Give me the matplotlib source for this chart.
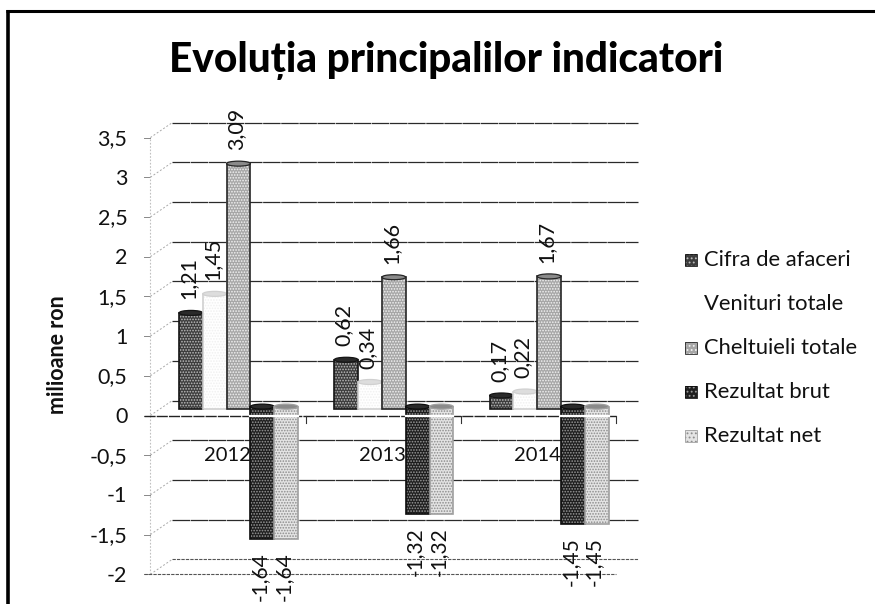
import matplotlib

matplotlib.use("Agg")
import matplotlib.pyplot as plt
import numpy as np
from matplotlib.patches import Ellipse, Rectangle

plt.rcParams["font.family"] = ["Lato", "DejaVu Sans"]
plt.rcParams["hatch.linewidth"] = 0.8

# Values.
YEARS = ["2012", "2013", "2014"]
CIFRA = [1.21, 0.62, 0.17]
VENITURI = [1.45, 0.34, 0.22]
CHELTUIELI = [3.09, 1.66, 1.67]
BRUT = [-1.64, -1.32, -1.45]
NET = [-1.64, -1.32, -1.45]
Y_TICKS = [3.5, 3, 2.5, 2, 1.5, 1, 0.5, 0, -0.5, -1, -1.5, -2]

SERIES = [
    ("Cifra de afaceri", CIFRA, "#3c3c3c", "#bdbdbd", "#141414", "cap_dark"),
    ("Venituri totale", VENITURI, "#ffffff", "#f0f0f0", "#d0d0d0", "cap_light"),
    ("Cheltuieli totale", CHELTUIELI, "#a6a6a6", "#f2f2f2", "#262626", "cap_mid"),
    ("Rezultat brut", BRUT, "#1e1e1e", "#9a9a9a", "#0c0c0c", "cap_dark"),
    ("Rezultat net", NET, "#e4e4e4", "#8c8c8c", "#a0a0a0", "cap_mid"),
]
CAP_FACES = {"cap_dark": "#2a2a2a", "cap_mid": "#8a8a8a", "cap_light": "#dddddd"}

# One axes over the whole page: x in category widths, y in chart units.
W, H = 875, 604
CAT_W = 155.3
UNIT = 79.4
X0_PX, Y0_PX = 228, 415.5
BAR_W = 23.8 / CAT_W
GROUP_START = (179 - X0_PX) / CAT_W
BASE = 6.5 / UNIT
DEPTH_X = 22 / CAT_W
DEPTH_Y = 15 / UNIT
LEFT = -0.5
RIGHT = 2.5
LABEL_SHIFT = -2.5 / CAT_W


def fmt(v):
    return f"{v:g}".replace(".", ",")


fig = plt.figure(figsize=(W / 100, H / 100), dpi=100)
ax = fig.add_axes([0, 0, 1, 1])
ax.set_xlim(-X0_PX / CAT_W, (W - X0_PX) / CAT_W)
ax.set_ylim(-(H - Y0_PX) / UNIT, Y0_PX / UNIT)
ax.axis("off")

# Page frame: open at the right and at the bottom.
ax.plot([7.5 / W, 7.5 / W], [0, 1 - 10 / H], transform=ax.transAxes, color="black", lw=2.6, solid_capstyle="butt")
ax.plot([6 / W, 1], [1 - 11 / H, 1 - 11 / H], transform=ax.transAxes, color="black", lw=2.2, solid_capstyle="butt")

# Back wall gridlines and the dashed wall edges going to the front ticks.
for v in Y_TICKS:
    back = v + DEPTH_Y
    if v != -2:
        ax.plot([LEFT + DEPTH_X, RIGHT + DEPTH_X], [back, back], color="#2a2a2a", lw=0.9, ls=(0, (14, 0.5)), zorder=1)
    else:
        ax.plot([LEFT + DEPTH_X, RIGHT + DEPTH_X], [back, back], color="#555555", lw=0.8, ls=(0, (3, 1)), zorder=1)
    ax.plot([LEFT, LEFT + DEPTH_X], [v, back], color="#aaaaaa", lw=0.7, ls=(0, (2, 2)), zorder=1)
    ax.plot([LEFT - 0.04, LEFT], [v, v], color="#888888", lw=0.7, zorder=1)
ax.plot([LEFT, LEFT], [Y_TICKS[-1], Y_TICKS[0]], color="#c0c0c0", lw=0.8, ls=(0, (1.5, 1.5)), zorder=1)

# Front floor lines with the category ticks.
ax.plot([LEFT - 0.04, RIGHT], [0, 0], color="#222222", lw=1.0, ls=(0, (8, 0.8)), zorder=2)
ax.plot([LEFT - 0.04, RIGHT], [-2, -2], color="#555555", lw=0.8, ls=(0, (3, 1)), zorder=2)
for i in range(1, len(YEARS) + 1):
    ax.plot([LEFT + i, LEFT + i], [0, -0.1], color="#333333", lw=0.8, zorder=2)

# Bars: flat body with a speckle hatch, darker edge and an elliptic cap.
for s, (name, values, face, speck, edge, cap) in enumerate(SERIES):
    for i, v in enumerate(values):
        x = i + GROUP_START + s * BAR_W
        z = 3 + s * 0.1
        if v >= 0:
            bottom, top = BASE, v + BASE
        else:
            bottom, top = v + BASE, BASE + 0.03
        ax.bar(x, top - bottom, BAR_W, bottom=bottom, align="edge", color=face, edgecolor=speck, hatch="......", lw=0, zorder=z)
        ax.add_patch(Rectangle((x, bottom), BAR_W, top - bottom, fill=False, ec=edge, lw=1.2, zorder=z + 0.01))
        ax.add_patch(Ellipse((x + BAR_W / 2, top), BAR_W, 5 / UNIT, fc=CAP_FACES[cap], ec=edge, lw=0.9, zorder=z + 0.02))
        if v < 0:
            # white slit where the axis plane cuts the negative bars
            ax.plot([x, x + BAR_W], [0, 0], color="white", lw=1.6, zorder=z + 0.03)
        label = fmt(v)
        if v >= 0:
            ax.text(x + BAR_W / 2 + LABEL_SHIFT, top + 0.17, label, rotation=90, ha="center", va="bottom", fontsize=15.5, color="#111111", zorder=6)
        else:
            ax.text(x + BAR_W / 2 + LABEL_SHIFT, bottom - 0.17, label, rotation=90, ha="center", va="top", fontsize=15, color="#111111", zorder=6)

# Year labels sit just left of the negative bars, partly behind them.
for i, year in enumerate(YEARS):
    ax.text(i + 0.145, -0.5, year, ha="right", va="center", fontsize=14.5, color="#111111", zorder=2.5)

# Value axis labels.
for v in Y_TICKS:
    ax.text(LEFT - 0.148, v - 0.02, fmt(v), ha="right", va="center", fontsize=15.5, color="#111111")
ax.text(58 / W, 1 - 355 / H, "milioane ron", transform=ax.transAxes, rotation=90, ha="center", va="center", fontsize=15.5, fontweight="bold", color="#111111")

# Legend as plain keys and text, spaced as in the picture.
for s, (name, _, face, speck, edge, _cap) in enumerate(SERIES):
    ly = 1 - (260 + s * 44) / H
    if s != 1:
        ax.add_patch(Rectangle((685 / W, ly - 6 / H), 12 / W, 12 / H, transform=ax.transAxes, fc=face, ec=speck, hatch="....", lw=0, zorder=5))
        ax.add_patch(Rectangle((685 / W, ly - 6 / H), 12 / W, 12 / H, transform=ax.transAxes, fill=False, ec=edge, lw=0.6, zorder=5))
    ax.text(704 / W, ly, name, transform=ax.transAxes, ha="left", va="center", fontsize=15.8, color="#111111")

ax.text(446 / W, 1 - 60 / H, "Evoluția principalilor indicatori", transform=ax.transAxes, ha="center", va="center", fontsize=29.2, fontweight=900, color="#000000")

fig.savefig("out.png", dpi=100)
plt.close(fig)
